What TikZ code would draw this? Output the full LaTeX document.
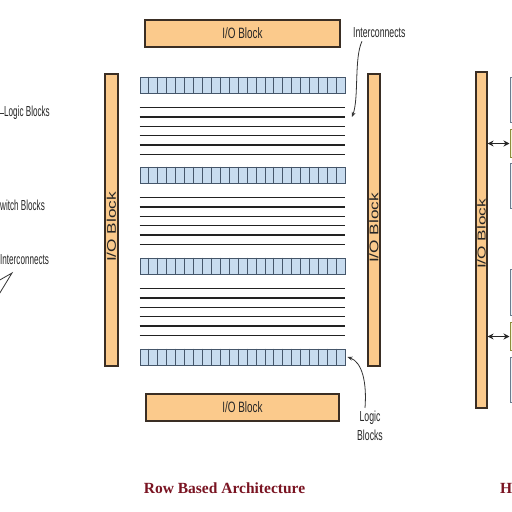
\documentclass[tikz,border=0pt]{standalone}
\usepackage{fontspec}
\setmainfont{Liberation Serif}
\newfontfamily\labsans{Liberation Sans}
\usetikzlibrary{arrows.meta,calc}
\definecolor{ioorange}{HTML}{FBCA8C}
\definecolor{ioedge}{HTML}{3A2E24}
\definecolor{lbfill}{HTML}{C8DCEF}
\definecolor{lbedge}{HTML}{45566A}
\definecolor{wirec}{HTML}{222222}
\definecolor{titlered}{HTML}{7A1422}
\definecolor{bluebox}{HTML}{6A7C8E}
\definecolor{blueboxfill}{HTML}{EEF2F6}
\definecolor{olivebox}{HTML}{8C8C3C}
\definecolor{oliveboxfill}{HTML}{F3F3D6}
\newcommand{\condtxt}[1]{\scalebox{0.6}[1]{#1}}
\newcommand{\widetxt}[1]{\scalebox{1.38}[1]{#1}}
\begin{document}
\begin{tikzpicture}[x=1pt,y=-1pt,
  iobox/.style={draw=ioedge, line width=1.2pt, fill=ioorange, inner sep=0pt},
  lbrow/.style={draw=lbedge, line width=0.9pt, fill=lbfill, minimum width=205pt, minimum height=16pt, inner sep=0pt},
  wire/.style={draw=wirec, line width=1.3pt},
  lab/.style={font=\labsans\fontsize{14.5}{19}\selectfont, text=black!85, inner sep=0pt},
  vlab/.style={font=\labsans\fontsize{12.5}{14}\selectfont, text=black!85, inner sep=0pt, rotate=90},
  arr/.style={draw=black!80, line width=0.8pt, -{Stealth[length=5pt,width=4pt]}},
  darr/.style={draw=black!85, line width=1.3pt, {Stealth[length=6pt,width=6pt]}-{Stealth[length=6pt,width=6pt]}},
  bbox/.style={draw=bluebox, line width=1pt, fill=blueboxfill, inner sep=0pt},
  obox/.style={draw=olivebox, line width=1pt, fill=oliveboxfill, inner sep=0pt},
  title/.style={font=\bfseries\fontsize{15.5}{18}\selectfont, text=titlered, inner sep=0pt}]
\useasboundingbox (0,0) rectangle (512,512);
\fill[white] (0,0) rectangle (512,512);
\clip (0,0) rectangle (512,512);

% I/O blocks of the row based architecture
\node[iobox, minimum width=195pt, minimum height=27pt] (iotop) at (242.5,33.5) {};
\node[lab, font=\labsans\fontsize{15}{19}\selectfont] (iotoptxt) at (iotop) {\scalebox{0.66}[1]{I/O Block}};
\node[iobox, minimum width=193pt, minimum height=27pt] (iobot) at (242.5,407.5) {};
\node[lab, font=\labsans\fontsize{15}{19}\selectfont] (iobottxt) at (iobot) {\scalebox{0.66}[1]{I/O Block}};
\node[iobox, minimum width=13pt, minimum height=292pt] (ioleft) at (111.5,220) {};
\node[vlab] (iolefttxt) at (111.5,227) {\widetxt{I/O Block}};
\node[iobox, minimum width=12pt, minimum height=292pt] (ioright) at (374,220) {};
\node[vlab] (iorighttxt) at (374,228) {\widetxt{I/O Block}};

% logic block rows
\node[lbrow] (r1) at (242.5,85) {};
\node[lbrow] (r2) at (242.5,175) {};
\node[lbrow] (r3) at (242.5,266) {};
\node[lbrow] (r4) at (242.5,357) {};
\foreach \r in {r1,r2,r3,r4}{
  \foreach \i in {1,...,22}{
    \draw[lbedge, line width=0.7pt] ($(\r.north west)!\i/23!(\r.north east)$) -- ($(\r.south west)!\i/23!(\r.south east)$);
  }
}
% interconnect wires
\foreach \r in {r1,r2,r3}{
  \foreach \k in {0,...,5}{
    \draw[wire] ($(\r.south west)+(0,14+\k*9.4)$) -- ($(\r.south east)+(0,14+\k*9.4)$);
  }
}

% labels with arrows
\node[lab, anchor=west] (icl) at (353,33) {\condtxt{Interconnects}};
\coordinate (icend) at (352,117);
\draw[arr] ([xshift=9pt,yshift=-3pt]icl.south west) .. controls (354,58) and (359,98) .. (icend);
\node[lab, align=center] (lbl) at (370,426) {\condtxt{Logic}\\\condtxt{Blocks}};
\draw[arr] ([xshift=-5pt,yshift=3pt]lbl.north) .. controls (367,382) and (362,362) .. ([xshift=2pt]r4.east);

% fragments at the left edge
\node[lab, anchor=west] (lgl) at (4,113) {\scalebox{0.56}[1]{Logic Blocks}};
\draw[draw=black!80, line width=0.8pt] (lgl.west) -- ++(-8,0);
\node[lab, anchor=west] (swl) at (0,205) {\scalebox{0.56}[1]{witch Blocks}};
\node[lab, anchor=west] (iclft) at (0,260) {\scalebox{0.56}[1]{Interconnects}};
\coordinate (tri) at (12,273);
\draw[draw=black!80, line width=0.8pt] (-2,281) -- (tri) -- (-2,296);

% fragment at the right edge
\node[iobox, minimum width=11pt, minimum height=336pt] (iofar) at (481.5,240) {};
\node[vlab, font=\labsans\fontsize{11.5}{13}\selectfont] (iofartxt) at (481.5,234) {\scalebox{1.5}[1]{I/O Block}};
\node[bbox, minimum width=30pt, minimum height=45pt, anchor=north west] (b1) at (509.5,77) {};
\node[obox, minimum width=30pt, minimum height=28pt, anchor=north west] (o1) at (509.5,129) {};
\node[bbox, minimum width=30pt, minimum height=45pt, anchor=north west] (b2) at (509.5,163) {};
\node[bbox, minimum width=30pt, minimum height=46pt, anchor=north west] (b3) at (509.5,269) {};
\node[obox, minimum width=30pt, minimum height=28pt, anchor=north west] (o2) at (509.5,322) {};
\node[bbox, minimum width=30pt, minimum height=45pt, anchor=north west] (b4) at (509.5,357) {};
\draw[darr] (iofar.east |- o1.west) -- (o1.west);
\draw[darr] (iofar.east |- o2.west) -- (o2.west);

% titles
\node[title] (t1) at (224.5,488) {Row Based Architecture};
\node[title, anchor=west] (t2) at (500,488) {H};
\end{tikzpicture}
\end{document}
